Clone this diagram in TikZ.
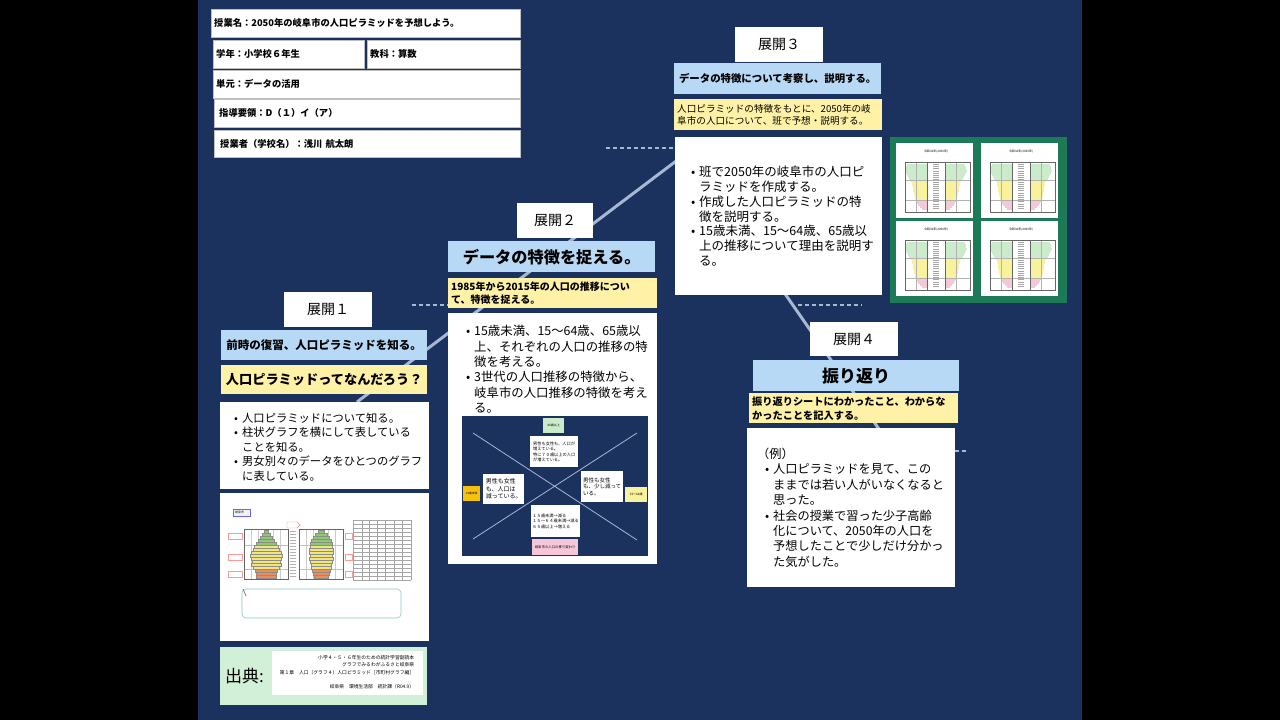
\documentclass[tikz,border=0pt]{standalone}
\usepackage{fontspec}
\setmainfont{Noto Sans CJK JP}
\definecolor{navy}{HTML}{1B315E}
\definecolor{goalblue}{HTML}{B8D9F6}
\definecolor{notey}{HTML}{FFF2A6}
\definecolor{trail}{HTML}{A7B8D2}
\definecolor{framegreen}{HTML}{1D7A56}
\definecolor{citegreen}{HTML}{D2EFD7}
\definecolor{pyrgreen}{HTML}{8CC972}
\definecolor{pyryellow}{HTML}{F1E67C}
\definecolor{pyrorange}{HTML}{EE8B57}
\definecolor{palegreen}{HTML}{CBEBCB}
\definecolor{paleyellow}{HTML}{F8F29C}
\definecolor{palepink}{HTML}{F6C7D9}
\definecolor{kidgold}{HTML}{F4C20D}
\newcommand{\fsz}[2]{\fontsize{#1}{#2}\selectfont}
\newcommand{\listdot}{\makebox[8pt][l]{\textbullet}}
\newcommand{\listgap}{\hspace*{8pt}}

\begin{document}
\begin{tikzpicture}[x=1pt,y=-1pt,
  hdr/.style={draw=black!25,fill=white,anchor=north west,minimum height=28pt,inner xsep=3pt,align=left,font=\bfseries\fsz{9.3}{11}},
  stage/.style={fill=white,anchor=north west,inner sep=0pt,font=\fsz{14}{16}},
  goal/.style={fill=goalblue,anchor=north west,inner sep=0pt},
  task/.style={fill=notey,anchor=north west,inner xsep=3pt,inner ysep=0pt,align=left},
  panel/.style={fill=white,anchor=north west,inner sep=0pt},
  listtext/.style={inner sep=0pt,align=left},
  trailline/.style={trail,line width=3pt},
  dashtrail/.style={trail,line width=1.6pt,dash pattern=on 4pt off 3pt},
  memo/.style={fill=white,anchor=north west,inner sep=1pt,align=left},
  tag/.style={anchor=north west,inner sep=0pt}]

\fill[black] (0,0) rectangle (1280,720);
\fill[navy] (198,0) rectangle (1082,720);

% paths behind the stages
\coordinate (rise-a) at (357,402);
\coordinate (rise-b) at (700,143);
\coordinate (fall-a) at (765,265);
\coordinate (fall-b) at (881,432);
\draw[trailline] (rise-a) -- (rise-b);
\draw[trailline] (fall-a) -- (fall-b);
\foreach \a/\b/\y [count=\i] in {606/675/148,412/448/305,798/862/305,955/966/451} {
  \coordinate (dash\i-a) at (\a,\y);
  \coordinate (dash\i-b) at (\b,\y);
  \draw[dashtrail] (dash\i-a) -- (dash\i-b);
}

% lesson header
\node[hdr,text width=303pt] (lesson) at (211,9) {授業名：2050年の岐阜市の人口ピラミッドを予想しよう。};
\node[hdr,text width=145pt] (grade) at (213,40) {学年：小学校６年生};
\node[hdr,text width=147pt] (subject) at (367,40) {教科：算数};
\node[hdr,text width=301pt] (unit) at (213,70) {単元：データの活用};
\node[hdr,text width=296pt,inner xsep=5pt] (course) at (214,99) {指導要領：D（１）イ（ア）};
\node[hdr,text width=294pt,inner xsep=6pt,minimum height=27pt] (teacher) at (214,130) {授業者（学校名）：浅川 航太朗};

% 展開1
\node[stage,minimum width=88pt,minimum height=35pt] (stage1) at (284,292) {展開１};
\node[goal,minimum width=206pt,minimum height=30pt,font=\bfseries\fsz{11.5}{13}] (goal1) at (221,330) {前時の復習、人口ピラミッドを知る。};
\node[task,minimum width=206pt,minimum height=29pt,font=\bfseries\fsz{13.2}{15}] (task1) at (221,365) {人口ピラミッドってなんだろう？};
\node[panel,minimum width=209pt,minimum height=87pt] (body1) at (220,402) {};
\node[listtext,anchor=west,font=\fsz{11.3}{14.5}] (list1) at ([xshift=14pt,yshift=-1pt]body1.west) {\listdot 人口ピラミッドについて知る。\\ \listdot 柱状グラフを横にして表している\\ \listgap ことを知る。\\ \listdot 男女別々のデータをひとつのグラフ\\ \listgap に表している。};

\node[panel,minimum width=209pt,minimum height=148pt] (sample1) at (220,493) {};
\draw[blue!60,fill=blue!5,line width=.4pt] (233,509) rectangle (250,516);
\node[tag,font=\fsz{3}{3.5}] (cityname) at (235,511) {岐阜市};
\draw[red!50,fill=white,line width=.4pt] (287,522) -- (297,522) -- (300,525) -- (297,528) -- (287,528) -- cycle;
\foreach \cx/\grid in {266/244,321/299} {
  \foreach \g in {1,...,5} \draw[black!20,line width=.3pt] (\grid+\g*7.3,529) -- (\grid+\g*7.3,579);
  \draw[black!25,line width=.3pt] (\grid,545) -- (\grid+44,545) (\grid,569) -- (\grid+44,569);
}
\foreach \w [count=\i] in {2,4,6,8,10,12,13,15,16,15,14,15,13,11,10,10} {
  \ifnum\i<6 \def\barcol{pyrgreen}\else\ifnum\i<14 \def\barcol{pyryellow}\else\def\barcol{pyrorange}\fi\fi
  \filldraw[fill=\barcol,draw=black!45,line width=.2pt] (266-\w,527+\i*3) rectangle (266+\w,530+\i*3);
}
\foreach \w [count=\i] in {3,6,8,10,11,11,12,12,11,12,11,10,10,9,8,7} {
  \ifnum\i<6 \def\barcol{pyrgreen}\else\ifnum\i<14 \def\barcol{pyryellow}\else\def\barcol{pyrorange}\fi\fi
  \filldraw[fill=\barcol,draw=black!45,line width=.2pt] (321-\w,527+\i*3) rectangle (321+\w,530+\i*3);
}
\foreach \grid in {244,299} \draw[black!60,line width=.4pt] (\grid,529) rectangle (\grid+44,579);
\foreach \i in {1,...,16} \draw[black!30,line width=.4pt] (290,528+\i*3) -- (296,528+\i*3);
\foreach \y in {533,554,571} \draw[red!40,line width=.3pt] (228,\y) rectangle (242,\y+6) (345,\y) rectangle (352,\y+6);
\foreach \r in {0,...,15} \draw[black!35,line width=.3pt] (353,520+\r*4) -- (411,520+\r*4);
\foreach \c in {353,362,369,377,385,394,402,411} \draw[black!35,line width=.3pt] (\c,520) -- (\c,580);
\draw[teal!45,line width=.6pt,rounded corners=4pt] (242,589) rectangle (401,618);
\draw[black!60,line width=.6pt] (243,589) -- (246,596);

\node[fill=citegreen,anchor=north west,inner sep=0pt,minimum width=207pt,minimum height=58pt] (source) at (220,647) {};
\node[anchor=west,inner sep=0pt,font=\fsz{17}{19}] (sourcelabel) at ([xshift=5pt]source.west) {出典:};
\node[fill=white,anchor=north west,inner sep=0pt,minimum width=151pt,minimum height=44pt] (sourcebox) at (272,651) {};
\node[anchor=north east,inner sep=0pt,align=right,font=\fsz{4.8}{7.5}] (sourcetext) at ([xshift=-9pt,yshift=-4pt]sourcebox.north east) {小学４・５・６年生のための統計学習副読本\\グラフでみるわがふるさと岐阜県\\第１章　人口（グラフ４）人口ピラミッド［市町村グラフ編］\\[7pt]岐阜県　環境生活部　統計課（R04.9）};

% 展開2
\node[stage,minimum width=76pt,minimum height=35pt] (stage2) at (517,203) {展開２};
\node[goal,minimum width=207pt,minimum height=31pt,font=\bfseries\fsz{16.2}{18}] (goal2) at (448,241) {データの特徴を捉える。};
\node[task,text width=203pt,minimum height=30pt,font=\bfseries\fsz{10}{13}] (task2) at (448,278) {1985年から2015年の人口の推移につい\\て、特徴を捉える。};
\node[panel,minimum width=209pt,minimum height=251pt] (body2) at (448,313) {};
\node[listtext,anchor=north west,font=\fsz{12.4}{15.4}] (list2) at ([xshift=18pt,yshift=-12pt]body2.north west) {\listdot 15歳未満、15〜64歳、65歳以\\ \listgap 上、それぞれの人口の推移の特\\ \listgap 徴を考える。\\ \listdot 3世代の人口推移の特徴から、\\ \listgap 岐阜市の人口推移の特徴を考え\\ \listgap る。};

\node[fill=navy,anchor=north west,inner sep=0pt,minimum width=186pt,minimum height=140pt] (map2) at (462,416) {};
\coordinate (cross-a) at (473,433);
\coordinate (cross-b) at (637,540);
\coordinate (cross-c) at (473,539);
\coordinate (cross-d) at (637,433);
\draw[trail,line width=.8pt] (cross-a) -- (cross-b) (cross-c) -- (cross-d);
\node[fill=palegreen,anchor=north west,inner sep=0pt,minimum width=21pt,minimum height=15pt,font=\fsz{3}{3.5}] (old) at (543,418) {65歳以上};
\node[memo,minimum width=48pt,minimum height=31pt,font=\fsz{4.2}{5.4}] (oldnote) at (530,436) {男性も女性も、人口が\\増えている。\\特に７０歳以上の人口\\が増えている。};
\node[fill=kidgold,anchor=north west,inner sep=0pt,minimum width=17pt,minimum height=15pt,font=\fsz{2.8}{3.5}] (young) at (463,486) {15歳未満};
\node[memo,minimum width=41pt,minimum height=30pt,font=\fsz{6}{7.5}] (youngnote) at (483,474) {男性も女性\\も、人口は\\減っている。};
\node[memo,minimum width=42pt,minimum height=31pt,font=\fsz{5.5}{6.8}] (worknote) at (581,471) {男性も女性\\も、少し減って\\いる。};
\node[fill=paleyellow,anchor=north west,inner sep=0pt,minimum width=22pt,minimum height=15pt,font=\fsz{3}{3.5}] (work) at (625,487) {15〜64歳};
\node[memo,minimum width=49pt,minimum height=32pt,font=\fsz{4.2}{5.4}] (trend) at (531,505) {１５歳未満→減る\\１５〜６４歳未満→減る\\６５歳以上→増える};
\node[fill=palepink,anchor=north west,inner sep=0pt,minimum width=46pt,minimum height=16pt,font=\fsz{3.4}{4}] (citytitle) at (532,539) {岐阜市の人口の移り変わり};

% 展開3
\node[stage,minimum width=88pt,minimum height=35pt] (stage3) at (735,27) {展開３};
\node[goal,minimum width=207pt,minimum height=31pt,font=\bfseries\fsz{10.4}{12}] (goal3) at (674,63) {データの特徴について考察し、説明する。};
\node[task,text width=202pt,minimum height=31pt,font=\fsz{9.6}{12}] (task3) at (674,99) {人口ピラミッドの特徴をもとに、2050年の岐\\阜市の人口について、班で予想・説明する。};
\node[panel,minimum width=207pt,minimum height=158pt] (body3) at (675,137) {};
\node[listtext,anchor=west,font=\fsz{12.5}{14.8}] (list3) at ([xshift=16pt]body3.west) {\listdot 班で2050年の岐阜市の人口ピ\\ \listgap ラミッドを作成する。\\ \listdot 作成した人口ピラミッドの特\\ \listgap 徴を説明する。\\ \listdot 15歳未満、15〜64歳、65歳以\\ \listgap 上の推移について理由を説明す\\ \listgap る。};

\node[fill=framegreen,anchor=north west,inner sep=0pt,minimum width=177pt,minimum height=166pt] (charts3) at (890,137) {};
\foreach \px/\py in {896/143,981/143,896/221,981/221} {
  \begin{scope}[shift={(\px,\py)}]
    \fill[white] (0,0) rectangle (77,75);
    \node[anchor=center,inner sep=0pt,font=\fsz{3}{3.5}] (year-\px-\py) at (40,9) {令和32年(2050年)};
    \foreach \w [count=\i] in {20,21,21,22,21,20,19,18,16,15,15,14,14,14,13,13,12,12,11,10,9,7,5} {
      \ifnum\i<9 \def\barcol{palegreen}\else\ifnum\i<19 \def\barcol{paleyellow}\else\def\barcol{palepink}\fi\fi
      \fill[\barcol] (31-\w,19+\i*2) rectangle (31,21+\i*2);
      \fill[\barcol] (49,19+\i*2) rectangle (49+\w,21+\i*2);
    }
    \draw[black!30,line width=.3pt] (9,37) -- (74,37) (9,57) -- (74,57) (20,19) -- (20,69) (60,19) -- (60,69);
    \foreach \i in {1,...,21} \draw[black!35,line width=.3pt] (37,19+\i*2.2) -- (43,19+\i*2.2);
    \draw[black!60,line width=.4pt] (9,19) rectangle (74,69) (31,19) -- (31,69) (49,19) -- (49,69);
  \end{scope}
}

% 展開4
\node[stage,minimum width=88pt,minimum height=34pt] (stage4) at (810,322) {展開４};
\node[goal,minimum width=206pt,minimum height=31pt,font=\bfseries\fsz{17}{19}] (goal4) at (753,360) {振り返り};
\node[task,text width=203pt,minimum height=30pt,font=\bfseries\fsz{10.2}{14}] (task4) at (749,393) {振り返りシートにわかったこと、わからな\\かったことを記入する。};
\node[panel,minimum width=208pt,minimum height=159pt] (body4) at (747,428) {};
\node[listtext,anchor=west,font=\fsz{12.2}{15.4}] (list4) at ([xshift=18pt]body4.west) {\hspace*{-8pt}（例）\\ \listdot 人口ピラミッドを見て、この\\ \listgap ままでは若い人がいなくなると\\ \listgap 思った。\\ \listdot 社会の授業で習った少子高齢\\ \listgap 化について、2050年の人口を\\ \listgap 予想したことで少しだけ分かっ\\ \listgap た気がした。};
\end{tikzpicture}
\end{document}
